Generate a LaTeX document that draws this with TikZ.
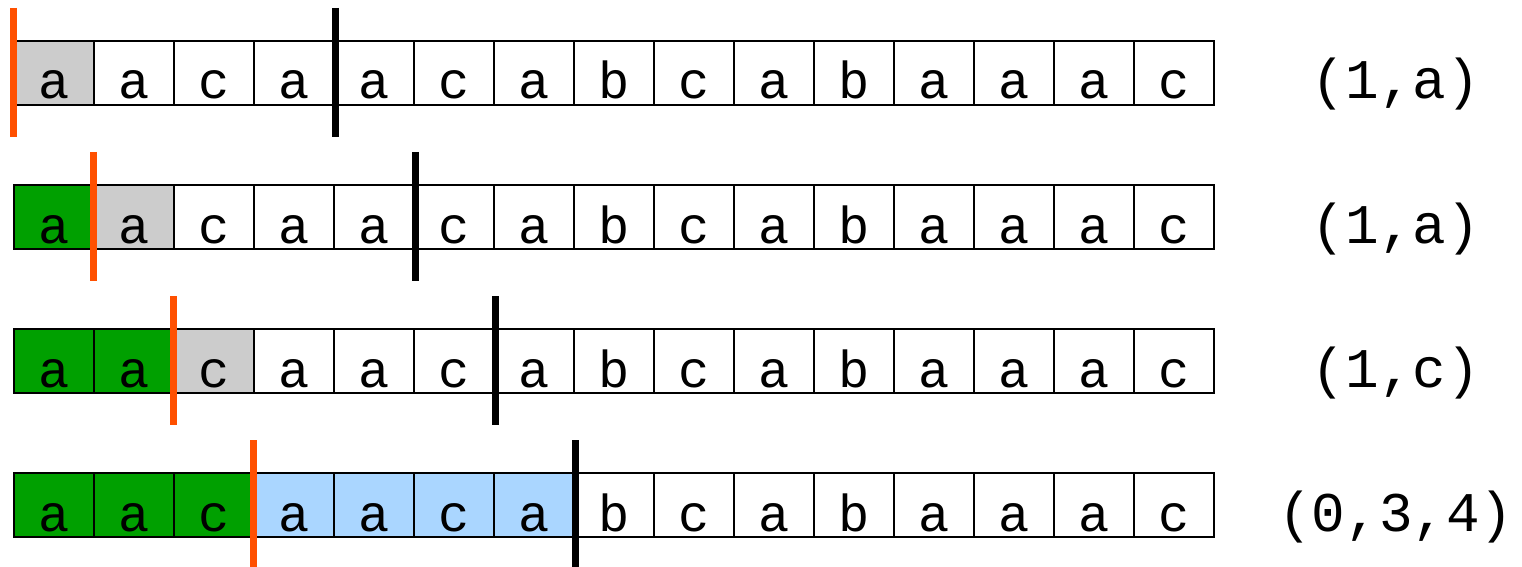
\documentclass[tikz,border=0pt]{standalone}
\usepackage{fontspec}
\setmonofont{Liberation Mono}
\definecolor{matchgreen}{RGB}{0,160,0}
\definecolor{lookgray}{RGB}{204,204,204}
\definecolor{copyblue}{RGB}{170,214,255}
\definecolor{cutorange}{RGB}{255,80,0}

\begin{document}
\begin{tikzpicture}[
    x=0.5pt, y=-0.5pt,
    cell/.style={draw, line width=1pt, inner sep=0pt, minimum width=40pt,
                 text height=29pt, text depth=3pt,
                 font=\ttfamily\fontsize{26}{30}\selectfont},
    result/.style={inner sep=0pt, text height=29pt, text depth=3pt,
                   font=\ttfamily\fontsize{28}{32}\selectfont},
    cursor/.style={line width=3.5pt, color=cutorange},
    window/.style={line width=3.5pt, color=black}
]
\useasboundingbox (0,0) rectangle (1522,567);
% rows: row / green cells / highlighted cells / highlight colour
\foreach \r/\g/\s/\hc in {1/0/1/lookgray, 2/1/1/lookgray, 3/2/1/lookgray, 4/3/4/copyblue} {
  \foreach \ch [count=\i] in {a,a,c,a,a,c,a,b,c,a,b,a,a,a,c} {
    \ifnum\i>\g
      \ifnum\i>\numexpr\g+\s\relax \def\cf{white}\else \def\cf{\hc}\fi
    \else \def\cf{matchgreen}\fi
    \node[cell, fill=\cf] (r\r c\i) at (80*\i-26, 73+144*\r-144) {\ch};
  }
  \pgfmathtruncatemacro\first{\g+1}
  \pgfmathtruncatemacro\last{\g+4}
  \draw[cursor] ([yshift=16pt]r\r c\first.north west) -- ([yshift=-15.5pt]r\r c\first.south west);
  \draw[window] ([yshift=16pt]r\r c\last.north east) -- ([yshift=-15.5pt]r\r c\last.south east);
}
\node[result] (t1) at (1396,73) {(1,a)};
\node[result] (t2) at (1396,217) {(1,a)};
\node[result] (t3) at (1396,361) {(1,c)};
\node[result] (t4) at (1396,505) {(0,3,4)};
\end{tikzpicture}
\end{document}
